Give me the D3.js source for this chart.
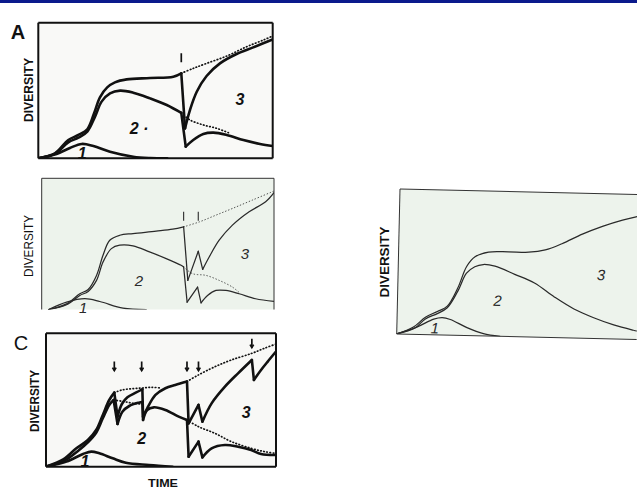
<!DOCTYPE html>
<html>
<head>
<meta charset="utf-8">
<script src="https://cdn.jsdelivr.net/npm/d3@7"></script>
<style>
body { margin: 0; background: #fff; }
svg { display: block; }
text { font-family: "Liberation Sans", Arial, sans-serif; }
</style>
</head>
<body>
<div id="chart"></div>
<script>
// time (0-100) / diversity (0-100)
// each line is a list of pieces so the extinction drops stay sharp

// panel A: one extinction
const aFauna1 = [[0,0],[7.8,3.2],[13.5,7.6],[18.5,10.6],[23.5,9.1],[30.6,4.9],[40.5,1.2],[47.7,0.2],[55,0]];
const aFauna12 = [
  [[0,0],[7,3.2],[12.8,11.8],[17.1,15.2],[20.9,19.7],[24.2,30.7],[27,41.8],[30.6,47.9],[34.9,49.9],[40.5,48.4],[47.7,44.2],[54.8,39.3],[61,33.5]],
  [[61,33.5],[62.9,8.6]],
  [[62.9,8.6],[66.1,13.5],[70.4,17.9],[74.7,18.9],[80.4,17.2],[87.5,13.5],[94.6,10.6],[100,9.1]]
];
const aTotal = [
  [[0,0],[7.1,3.7],[12.8,13.5],[17.1,17.2],[20.9,21.4],[23.8,33.2],[26.3,45],[29.4,52.3],[32.7,56],[37.7,58.2],[47.7,59.2],[57.6,60.2],[61,62.7]],
  [[61,62.7],[62.6,22.1]],
  [[62.6,22.1],[64.7,35.6],[67.6,49.1],[71.8,60.7],[77.5,70],[84.6,76.9],[91.7,81.8],[100,87.7]]
];
const aDotTotal = [[[61,62.7],[66.1,66.3],[71.8,70],[80.4,75.4],[88.9,82.3],[96,87.2],[100,90.2]]];
const aDot12 = [[[61,33.5],[64.7,28.3],[70.4,24.6],[76.1,22.1],[81.8,18.4]]];
const aEvents = [[61,77.5]];

// panel B: two close extinctions, thin lines
const bFauna1 = [[3,0],[10.7,5.6],[18.6,8.2],[25,6.1],[35,1],[45,0]];
const bFauna12 = [
  [[3,0],[10.7,3.6],[16.4,10.7],[20,13.8],[23.6,22.2],[26.4,36.2],[30,46.4],[33.6,49],[39.3,48.5],[46.4,43.9],[53.6,38.8],[60,33.7],[61.1,32.4]],
  [[61.1,32.4],[62.6,5.6]],
  [[62.6,5.6],[67.1,17.1]],
  [[67.1,17.1],[68.6,5.1]],
  [[68.6,5.1],[71.4,10.7],[75,14.5],[79.3,14.5],[85,12],[92.1,8.2],[100,6.1]]
];
const bTotal = [
  [[3,0],[10.7,4.3],[16.4,12],[20,15.3],[23.6,26],[26.4,41.3],[29.3,52.8],[33.6,56.6],[39.3,57.9],[49.3,59.7],[56.4,61.2],[61.1,63]],
  [[61.1,63],[62.9,22.2]],
  [[62.9,22.2],[67.4,44.4]],
  [[67.4,44.4],[69.3,30.6]],
  [[69.3,30.6],[72.1,40],[76.4,52.8],[82.1,64.3],[89.3,74.5],[96.4,82.1],[100,89]]
];
const bDotTotal = [[[61.1,63],[67.9,66.8],[75,71.9],[82.1,77],[90.7,83.4],[100,90.3]]];
const bDot12 = [[[61.1,32.4],[65,27.3],[70.7,26],[76.4,22.2],[82.1,17.1],[85,13]]];
const bEvents = [[61.1,74.5],[67.4,74.5]];

// panel C: five extinctions
const cFauna1 = [[0,0],[8.9,3.8],[16.1,9.5],[19.7,11.3],[23.2,10],[29,6.3],[34.7,3],[44.8,1.3],[55,0]];
const cFauna12 = [
  [[0,0],[8,4.5],[13.9,11.8],[18.2,18.3],[21.8,25.5],[24.7,36.3],[27.5,46.3],[29.4,50]],
  [[29.4,50],[31.1,32]],
  [[31.1,32],[33.3,41.3],[36.2,45.5],[40.4,48],[41.9,48.5]],
  [[41.9,48.5],[42.2,35]],
  [[42.2,35],[44,42.5],[46.9,44.5],[51.9,42.5],[57.7,37.5],[61.3,35]],
  [[61.3,35],[62,7.5]],
  [[62,7.5],[66.3,18.8]],
  [[66.3,18.8],[68,7]],
  [[68,7],[72,13.8],[77.8,16.3],[83.5,15],[89.2,12.5],[93.5,9.5],[100,8.8]]
];
const cTotal = [
  [[0,0],[7.5,5.5],[13.2,13.8],[18.2,20],[21.8,27.5],[24.7,38.8],[27.5,50],[29.7,55.5]],
  [[29.7,55.5],[31.1,37.5]],
  [[31.1,37.5],[33,47],[35.4,52],[39,55.5],[41.9,58]],
  [[41.9,58],[42.2,37.5]],
  [[42.2,37.5],[44,43.8],[47.6,53.8],[51.9,58.8],[56.2,61.3],[61.3,63.8]],
  [[61.3,63.8],[62,32.5]],
  [[62,32.5],[66.3,46.3]],
  [[66.3,46.3],[68,33.8]],
  [[68,33.8],[72,47.5],[77.8,60],[83.5,70],[89.5,80]],
  [[89.5,80],[90.4,65]],
  [[90.4,65],[93.5,72.5],[96.4,78.8],[100,86.3]]
];
const cDotTotal = [
  [[29.7,55.5],[33,57.5],[38,58.5],[41.9,59],[46,59.5],[50,59]],
  [[61.3,63.8],[66.3,68.8],[73.5,75],[80.6,80],[89.5,85],[95,88.8],[100,92]]
];
const cDot12 = [
  [[29.4,50],[34,48.8],[38,47.5],[41.9,47]],
  [[61.3,35],[66.3,30],[73.5,25],[80.6,18.8],[89.2,13.8],[95,11.3],[100,10]]
];
const cEvents = [[29.7,78.8],[41.6,78.8],[61.3,78.8],[66.3,78.8],[89.5,96]];

// panel D: no extinction
const dFauna1 = [[0,0],[8.3,5.2],[15.3,11.2],[18.8,12.4],[22.2,11.2],[29.2,5.7],[36.1,1.7],[43,0]];
const dFauna12 = [[[0,0],[7.5,4.5],[11.8,11.2],[16.7,15.2],[20.8,19.5],[25,31.4],[28.5,44.5],[31.9,49.3],[35.4,51],[40.3,50],[48.6,44.5],[56.9,38.6],[65.3,29],[73.6,20.7],[81.9,14.8],[90.3,10],[98.6,6.5],[100,6]]];
const dTotal = [[[0,0],[6.9,5.2],[11.8,12.4],[16.7,16.7],[20.8,20.7],[25,33.8],[28.5,49.3],[31.9,56.4],[37.5,60],[45.8,60.5],[54.2,60.5],[61.1,62.4],[68,67.1],[76.4,74.3],[84.7,80.2],[93,85],[98.6,87.5],[100,88]]];

// fauna labels [text, time, diversity]
const aLabels = [['3',86,43],['2 \u00b7',43,22.3],['1',18.7,3.2]];
const bLabels = [['3',87.5,42.8],['2',41.9,22.2],['1',17.8,1.5]];
const cLabels = [['3',87,41],['2',41.6,21.5],['1',16.9,4]];
const dLabels = [['3',84.6,45.7],['2',41.7,25.7],['1',15.8,5]];

const W = 637, H = 491;
const svg = d3.select('#chart').append('svg').attr('width', W).attr('height', H);

svg.append('rect').attr('width', W).attr('height', 3).attr('fill', '#0b1a8c');

const panels = [
  {id:'a', x0:38.3, x1:272.7, y0:22.7, y1:158.3, fill:'#f9f9f7', bold:true, sides:'tlrb',
   fauna1:aFauna1, fauna12:aFauna12, total:aTotal, dotTotal:aDotTotal, dot12:aDot12, events:aEvents, arrows:false, labels:aLabels,
   letter:'A', letterX:18, letterY:39, yTitle:{x:28, y:90, len:64, bold:true}},
  {id:'b', x0:41.7, x1:274, y0:178.3, y1:309.5, fill:'#edf3ec', bold:false, sides:'tlr',
   fauna1:bFauna1, fauna12:bFauna12, total:bTotal, dotTotal:bDotTotal, dot12:bDot12, events:bEvents, arrows:false, labels:bLabels,
   yTitle:{x:28, y:246, len:62, bold:false}},
  {id:'c', x0:46, x1:276, y0:333.3, y1:466.7, fill:'#f8f8f6', bold:true, sides:'tlrb',
   fauna1:cFauna1, fauna12:cFauna12, total:cTotal, dotTotal:cDotTotal, dot12:cDot12, events:cEvents, arrows:true, labels:cLabels,
   letter:'C', letterX:21, letterY:350, yTitle:{x:34, y:401, len:62, bold:true}, xTitle:{x:163, y:487, len:30}},
  {id:'d', x0:400, x1:640, y0:194, y1:334, padTop:5, rotate:1.3, fill:'#edf3ec', bold:false, sides:'tlb',
   fauna1:dFauna1, fauna12:dFauna12, total:dTotal, dotTotal:[], dot12:[], events:[], arrows:false, labels:dLabels,
   yTitle:{x:384, y:262, len:71, bold:true}}
];

panels.forEach(drawPanel);

function drawPanel(p) {
  const x = d3.scaleLinear().domain([0, 100]).range([p.x0, p.x1]);
  const y = d3.scaleLinear().domain([0, 100]).range([p.y1, p.y0]);
  const top = p.y0 - (p.padTop || 0);
  const sw = p.bold ? 2.6 : 1.25;
  const ink = p.bold ? '#111' : '#2a2a2a';

  const g = svg.append('g')
    .attr('transform', p.rotate ? `rotate(${p.rotate},${p.x0},${top})` : null);

  g.append('clipPath').attr('id', 'clip-' + p.id)
    .append('rect')
    .attr('x', p.x0).attr('y', top - 12)
    .attr('width', p.x1 - p.x0).attr('height', p.y1 - top + 12);

  g.append('rect')
    .attr('x', p.x0).attr('y', top)
    .attr('width', p.x1 - p.x0).attr('height', p.y1 - top)
    .attr('fill', p.fill);

  const body = g.append('g').attr('clip-path', `url(#clip-${p.id})`);

  const line = d3.line()
    .x(d => x(d[0]))
    .y(d => y(d[1]))
    .curve(d3.curveCatmullRom.alpha(0.5));

  function pieces(list, dotted) {
    body.append('g').selectAll('path')
      .data(list)
      .join('path')
      .attr('d', line)
      .attr('fill', 'none')
      .attr('stroke', ink)
      .attr('stroke-width', dotted ? sw * 0.65 : sw)
      .attr('stroke-linejoin', 'round')
      .attr('stroke-linecap', 'round')
      .attr('stroke-dasharray', dotted ? '0.6,2.6' : null);
  }

  pieces(p.dotTotal, true);
  pieces(p.dot12, true);
  pieces([p.fauna1], false);
  pieces(p.fauna12, false);
  pieces(p.total, false);

  // extinction markers
  const ev = body.append('g').attr('stroke', ink).attr('stroke-width', p.bold ? 1.7 : 1.1).attr('fill', 'none');
  p.events.forEach(e => {
    const ex = x(e[0]), ey = y(e[1]);
    ev.append('line').attr('x1', ex).attr('x2', ex).attr('y1', ey).attr('y2', ey + 9);
    if (p.arrows) {
      ev.append('path').attr('d', `M${ex - 1.8},${ey + 6} L${ex},${ey + 9} L${ex + 1.8},${ey + 6}`);
    }
  });

  // frame
  const fr = g.append('g').attr('stroke', p.bold ? '#111' : '#333')
    .attr('stroke-width', p.bold ? 2 : 1).attr('fill', 'none');
  if (p.sides.includes('t')) fr.append('line').attr('x1', p.x0).attr('x2', p.x1).attr('y1', top).attr('y2', top);
  if (p.sides.includes('b')) fr.append('line').attr('x1', p.x0).attr('x2', p.x1).attr('y1', p.y1).attr('y2', p.y1);
  if (p.sides.includes('l')) fr.append('line').attr('x1', p.x0).attr('x2', p.x0).attr('y1', top).attr('y2', p.y1);
  if (p.sides.includes('r')) fr.append('line').attr('x1', p.x1).attr('x2', p.x1).attr('y1', top).attr('y2', p.y1);

  // fauna numbers
  g.append('g').selectAll('text')
    .data(p.labels)
    .join('text')
    .attr('x', d => x(d[1]))
    .attr('y', d => y(d[2]))
    .attr('text-anchor', 'middle')
    .attr('dominant-baseline', 'central')
    .attr('font-size', p.bold ? 16 : 15)
    .attr('font-style', 'italic')
    .attr('font-weight', p.bold ? 'bold' : 'normal')
    .attr('fill', ink)
    .text(d => d[0]);

  // axis titles
  const yt = p.yTitle;
  svg.append('text')
    .attr('transform', `translate(${yt.x},${yt.y}) rotate(-90)`)
    .attr('text-anchor', 'middle')
    .attr('dominant-baseline', 'central')
    .attr('font-size', 13)
    .attr('font-weight', yt.bold ? 'bold' : 'normal')
    .attr('textLength', yt.len)
    .attr('lengthAdjust', 'spacingAndGlyphs')
    .attr('fill', '#111')
    .text('DIVERSITY');

  if (p.xTitle) {
    svg.append('text')
      .attr('x', p.xTitle.x).attr('y', p.xTitle.y)
      .attr('text-anchor', 'middle')
      .attr('font-size', 11.5)
      .attr('font-weight', 'bold')
      .attr('textLength', p.xTitle.len)
      .attr('lengthAdjust', 'spacingAndGlyphs')
      .attr('fill', '#111')
      .text('TIME');
  }

  if (p.letter) {
    svg.append('text')
      .attr('x', p.letterX).attr('y', p.letterY)
      .attr('text-anchor', 'middle')
      .attr('font-size', 20)
      .attr('font-weight', p.letter === 'A' ? 'bold' : 'normal')
      .attr('fill', '#111')
      .text(p.letter);
  }
}
</script>
</body>
</html>
